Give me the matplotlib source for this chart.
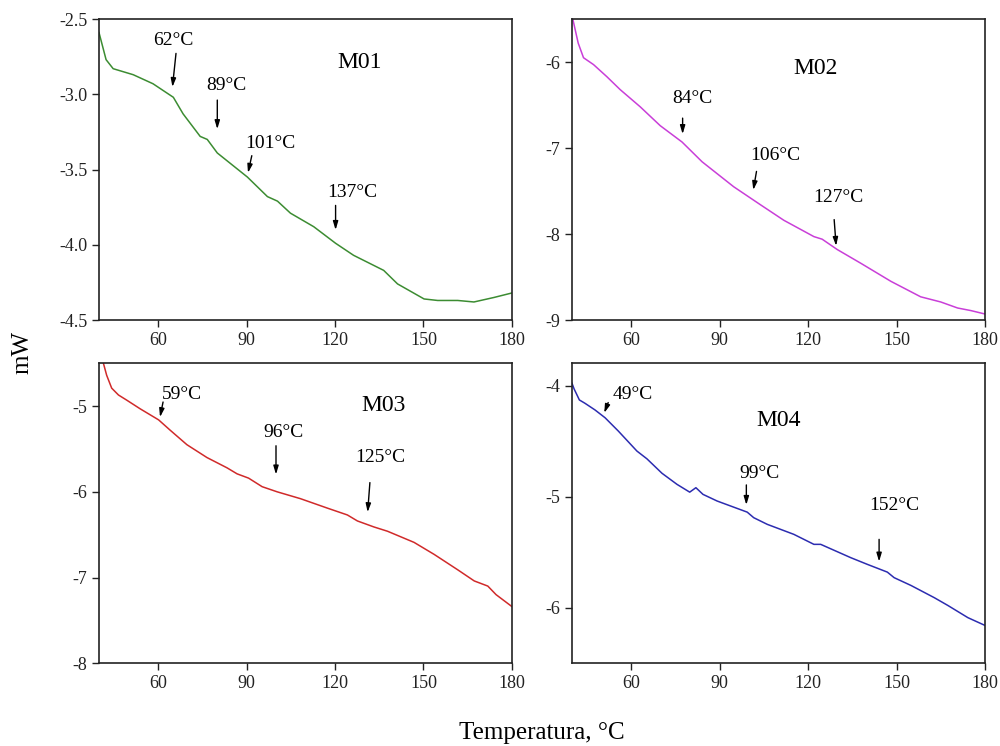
import matplotlib
matplotlib.use('Agg')
from matplotlib import pyplot as plt

plt.rcParams['font.family'] = ['Liberation Serif', 'DejaVu Serif']

# M01
m01_t = [40, 42.4, 44.8, 51.6, 58.3, 65.2, 68.5, 74.3, 76.7, 80.1, 90.3, 97.1, 100.5,
         104.9, 112.8, 120.2, 126.3, 136.5, 141.2, 145.7, 150.2, 154.8, 161.6, 167.1, 173.9, 180]
m01_y = [-2.59, -2.77, -2.83, -2.87, -2.93, -3.02, -3.13, -3.28, -3.30, -3.39, -3.55, -3.68, -3.71,
         -3.79, -3.88, -3.99, -4.07, -4.17, -4.26, -4.31, -4.36, -4.37, -4.37, -4.38, -4.35, -4.32]

# M02
m02_t = [40.2, 42.1, 43.9, 47.3, 51.8, 56.3, 63.1, 69.9, 77.3, 84.1, 94.8, 103.9, 111.8,
         122.0, 124.8, 129.9, 137.9, 148.1, 158.2, 165.0, 170.7, 175.2, 180]
m02_y = [-5.49, -5.78, -5.95, -6.03, -6.17, -6.32, -6.52, -6.74, -6.93, -7.16, -7.45, -7.66, -7.84,
         -8.03, -8.06, -8.18, -8.34, -8.55, -8.73, -8.79, -8.86, -8.89, -8.93]

# M03
m03_t = [41.5, 42.6, 44.3, 46.6, 49.4, 53.9, 60.2, 64.1, 69.8, 76.6, 83.4, 86.8, 90.7, 95.3,
         100.4, 108.3, 117.4, 124.2, 127.6, 133.2, 137.8, 146.8, 153.6, 161.6, 167.2, 171.8, 174.6, 180]
m03_y = [-4.50, -4.64, -4.79, -4.87, -4.93, -5.03, -5.16, -5.28, -5.45, -5.60, -5.72, -5.79, -5.84, -5.94,
         -6.00, -6.08, -6.19, -6.27, -6.34, -6.41, -6.46, -6.59, -6.73, -6.91, -7.04, -7.10, -7.20, -7.34]

# M04
m04_t = [40, 40.7, 42.5, 44.4, 47.8, 51.2, 55.7, 62.0, 65.4, 70.5, 75.6, 79.9, 82.0, 84.4, 89.2,
         99.4, 101.6, 106.2, 115.2, 122.0, 124.3, 134.5, 140.1, 146.9, 149.2, 154.9, 162.8, 167.4, 174.2, 180]
m04_y = [-3.98, -4.03, -4.13, -4.16, -4.22, -4.29, -4.41, -4.59, -4.66, -4.79, -4.89, -4.96, -4.92, -4.98, -5.04,
         -5.14, -5.19, -5.25, -5.34, -5.43, -5.43, -5.55, -5.61, -5.68, -5.73, -5.80, -5.91, -5.98, -6.09, -6.16]

# annotations: label, text x, text y, arrow start x, y, arrow end x, y
m01_notes = [('62°C', 65.2, -2.64, 66.2, -2.71, 64.8, -2.97),
             ('89°C', 83.2, -2.94, 80.1, -3.02, 80.1, -3.25),
             ('101°C', 98.1, -3.33, 92.0, -3.39, 90.3, -3.54),
             ('137°C', 126.0, -3.65, 120.2, -3.72, 120.2, -3.92)]
m02_notes = [('84°C', 80.7, -6.42, 77.5, -6.62, 77.5, -6.87),
             ('106°C', 109.0, -7.09, 102.7, -7.24, 101.3, -7.52),
             ('127°C', 130.3, -7.57, 128.8, -7.80, 129.6, -8.17)]
m03_notes = [('59°C', 68.1, -4.86, 61.9, -4.92, 60.5, -5.16),
             ('96°C', 102.4, -5.31, 100.0, -5.43, 100.0, -5.83),
             ('125°C', 135.5, -5.60, 131.9, -5.86, 131.0, -6.27)]
m04_notes = [('49°C', 60.6, -4.08, 52.6, -4.13, 50.6, -4.27),
             ('99°C', 103.7, -4.79, 99.1, -4.87, 99.1, -5.10),
             ('152°C', 149.2, -5.08, 144.1, -5.36, 144.1, -5.61)]

panels = [
    ('M01', m01_t, m01_y, m01_notes, '#3c8c32', (-4.5, -2.5), [-4.5, -4.0, -3.5, -3.0, -2.5], '%.1f', (0.63, 0.854), [0.099, 0.571, 0.413, 0.4035]),
    ('M02', m02_t, m02_y, m02_notes, '#c93fd8', (-9, -5.5), [-9, -8, -7, -6], '%d', (0.59, 0.837), [0.572, 0.571, 0.413, 0.4035]),
    ('M03', m03_t, m03_y, m03_notes, '#d02a2a', (-8, -4.5), [-8, -7, -6, -5], '%d', (0.69, 0.86), [0.099, 0.111, 0.413, 0.402]),
    ('M04', m04_t, m04_y, m04_notes, '#2c2cb0', (-6.5, -3.8), [-6, -5, -4], '%d', (0.50, 0.81), [0.572, 0.111, 0.413, 0.402]),
]

fig = plt.figure(figsize=(10, 7.46), dpi=100)

for name, t, y, notes, color, ylim, yticks, fmt, title_pos, rect in panels:
    ax = fig.add_axes(rect)
    ax.plot(t, y, color=color, lw=1.1)
    ax.set_xlim(40, 180)
    ax.set_ylim(ylim)
    ax.set_xticks([60, 90, 120, 150, 180])
    ax.set_yticks(yticks)
    ax.set_yticklabels([fmt % v for v in yticks])
    ax.tick_params(direction='out', length=5, width=1, labelsize=13, colors='#222222')
    for s in ax.spines.values():
        s.set_linewidth(1.2)
        s.set_color('#222222')
    ax.text(title_pos[0], title_pos[1], name, transform=ax.transAxes,
            ha='center', va='center', fontsize=17)
    for label, tx, ty, x0, y0, x1, y1 in notes:
        ax.text(tx, ty, label, ha='center', va='center', fontsize=14)
        ax.annotate('', xy=(x1, y1), xytext=(x0, y0),
                    arrowprops=dict(arrowstyle='-|>,head_length=0.5,head_width=0.15',
                                    color='black', lw=1))

fig.text(0.022, 0.527, 'mW', rotation=90, ha='center', va='center', fontsize=18)
fig.text(0.542, 0.017, 'Temperatura, °C', ha='center', va='center', fontsize=18)

plt.savefig('out.png', dpi=100)
